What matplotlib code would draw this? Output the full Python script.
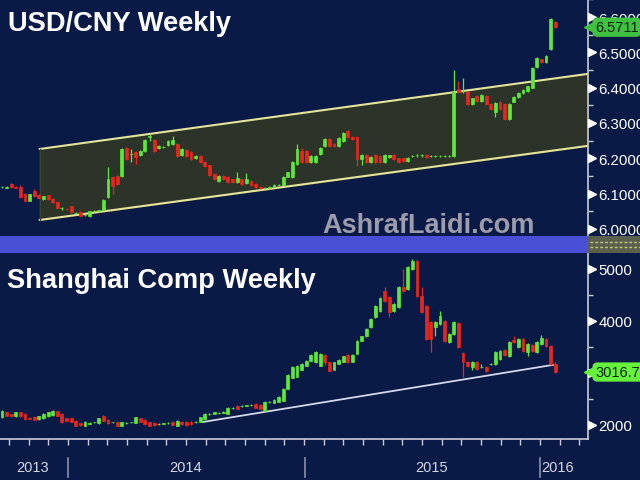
import numpy as np
import matplotlib
matplotlib.use('Agg')
import matplotlib.pyplot as plt
import matplotlib.transforms as mtransforms
from matplotlib.patches import Rectangle
from matplotlib.ticker import MultipleLocator, FuncFormatter

plt.rcParams['font.family'] = ['Liberation Sans', 'DejaVu Sans']

# ---- USD/CNY weekly candles ----
usd_open = [6.118, 6.117, 6.126, 6.118, 6.120, 6.098, 6.080, 6.106, 6.095, 6.085,
            6.095, 6.086, 6.075, 6.058, 6.057, 6.064, 6.046, 6.048, 6.040, 6.037,
            6.050, 6.051, 6.055, 6.090, 6.147, 6.150, 6.150, 6.229, 6.211, 6.218,
            6.209, 6.221, 6.261, 6.252, 6.229, 6.232, 6.238, 6.240, 6.240, 6.209,
            6.224, 6.218, 6.200, 6.207, 6.190, 6.180, 6.156, 6.136, 6.150, 6.147,
            6.140, 6.133, 6.140, 6.130, 6.136, 6.127, 6.120, 6.116, 6.115, 6.120,
            6.124, 6.125, 6.148, 6.147, 6.184, 6.220, 6.220, 6.190, 6.190, 6.212,
            6.235, 6.255, 6.240, 6.235, 6.249, 6.277, 6.260, 6.260, 6.198, 6.210,
            6.190, 6.210, 6.207, 6.190, 6.203, 6.210, 6.200, 6.200, 6.192, 6.206,
            6.208, 6.208, 6.210, 6.206, 6.206, 6.206, 6.207, 6.207, 6.207, 6.395,
            6.390, 6.388, 6.354, 6.376, 6.362, 6.376, 6.354, 6.331, 6.360, 6.354,
            6.311, 6.360, 6.374, 6.385, 6.390, 6.400, 6.459, 6.480, 6.473, 6.510,
            6.586]
usd_close = [6.118, 6.120, 6.118, 6.117, 6.090, 6.080, 6.098, 6.092, 6.088, 6.092,
             6.085, 6.075, 6.060, 6.058, 6.056, 6.048, 6.046, 6.038, 6.040, 6.050,
             6.050, 6.053, 6.082, 6.141, 6.122, 6.127, 6.226, 6.198, 6.213, 6.204,
             6.221, 6.252, 6.263, 6.221, 6.235, 6.233, 6.249, 6.252, 6.207, 6.226,
             6.207, 6.198, 6.206, 6.190, 6.178, 6.153, 6.141, 6.150, 6.141, 6.133,
             6.133, 6.143, 6.127, 6.140, 6.124, 6.119, 6.115, 6.116, 6.120, 6.124,
             6.124, 6.147, 6.160, 6.190, 6.226, 6.190, 6.190, 6.207, 6.207, 6.229,
             6.255, 6.235, 6.235, 6.258, 6.272, 6.260, 6.255, 6.198, 6.210, 6.190,
             6.205, 6.190, 6.190, 6.210, 6.208, 6.198, 6.190, 6.192, 6.202, 6.207,
             6.208, 6.209, 6.204, 6.206, 6.206, 6.207, 6.207, 6.207, 6.388, 6.388,
             6.391, 6.354, 6.370, 6.362, 6.380, 6.354, 6.340, 6.357, 6.340, 6.311,
             6.354, 6.374, 6.385, 6.394, 6.404, 6.456, 6.484, 6.473, 6.490, 6.594,
             6.5711]
usd_high = [6.121, 6.122, 6.129, 6.121, 6.123, 6.101, 6.100, 6.112, 6.098, 6.094,
            6.097, 6.088, 6.077, 6.061, 6.060, 6.066, 6.049, 6.050, 6.043, 6.052,
            6.053, 6.055, 6.085, 6.175, 6.150, 6.153, 6.229, 6.232, 6.226, 6.221,
            6.224, 6.254, 6.268, 6.255, 6.237, 6.236, 6.251, 6.262, 6.243, 6.228,
            6.227, 6.220, 6.208, 6.209, 6.192, 6.182, 6.158, 6.152, 6.152, 6.149,
            6.142, 6.161, 6.142, 6.157, 6.138, 6.129, 6.122, 6.119, 6.122, 6.126,
            6.127, 6.149, 6.162, 6.192, 6.240, 6.228, 6.224, 6.209, 6.209, 6.231,
            6.257, 6.258, 6.243, 6.260, 6.274, 6.280, 6.262, 6.262, 6.212, 6.212,
            6.207, 6.212, 6.209, 6.212, 6.210, 6.212, 6.202, 6.202, 6.204, 6.210,
            6.211, 6.211, 6.212, 6.209, 6.209, 6.209, 6.209, 6.209, 6.450, 6.418,
            6.427, 6.390, 6.372, 6.378, 6.382, 6.378, 6.356, 6.359, 6.362, 6.356,
            6.356, 6.376, 6.387, 6.396, 6.406, 6.458, 6.486, 6.482, 6.492, 6.596,
            6.588]
usd_low = [6.115, 6.115, 6.116, 6.115, 6.088, 6.078, 6.078, 6.090, 6.086, 6.083,
           6.083, 6.073, 6.058, 6.055, 6.054, 6.046, 6.043, 6.036, 6.037, 6.035,
           6.047, 6.049, 6.053, 6.088, 6.099, 6.125, 6.148, 6.196, 6.190, 6.184,
           6.207, 6.219, 6.250, 6.219, 6.227, 6.230, 6.236, 6.238, 6.205, 6.207,
           6.205, 6.196, 6.198, 6.188, 6.176, 6.151, 6.139, 6.134, 6.139, 6.131,
           6.131, 6.131, 6.125, 6.128, 6.122, 6.117, 6.113, 6.113, 6.113, 6.118,
           6.121, 6.123, 6.146, 6.145, 6.182, 6.188, 6.188, 6.188, 6.188, 6.210,
           6.233, 6.233, 6.233, 6.233, 6.247, 6.258, 6.253, 6.178, 6.180, 6.188,
           6.188, 6.188, 6.188, 6.188, 6.200, 6.196, 6.188, 6.190, 6.190, 6.204,
           6.205, 6.205, 6.202, 6.203, 6.203, 6.203, 6.204, 6.204, 6.205, 6.386,
           6.386, 6.352, 6.352, 6.360, 6.360, 6.352, 6.338, 6.318, 6.338, 6.309,
           6.309, 6.358, 6.372, 6.383, 6.388, 6.398, 6.457, 6.471, 6.471, 6.508,
           6.570]

# ---- Shanghai Composite weekly candles ----
sh_open = [2150, 2244, 2210, 2165, 2244, 2212, 2135, 2160, 2115, 2130,
           2167, 2190, 2260, 2212, 2129, 2129, 2083, 2035, 1990, 2028,
           2048, 2038, 2167, 2102, 2048, 2052, 1990, 2036, 2048, 2040,
           2129, 2102, 2052, 2040, 2015, 2026, 2036, 2064, 1990, 2064,
           2064, 2064, 2050, 2064, 2115, 2205, 2212, 2225, 2238, 2212,
           2320, 2365, 2360, 2366, 2380, 2404, 2385, 2275, 2440, 2423,
           2450, 2467, 2692, 2904, 2923, 3064, 3141, 3237, 3206, 3140,
           3346, 3206, 3064, 3173, 3218, 3346, 3218, 3365, 3621, 3706,
           3878, 4071, 4190, 4580, 4460, 4190, 4270, 4650, 4615, 5000,
           5150, 4480, 4290, 3980, 3890, 3940, 4000, 3600, 3750, 3960,
           3385, 3210, 3110, 3210, 3110, 3115, 3165, 3170, 3270, 3440,
           3330, 3640, 3500, 3650, 3400, 3540, 3400, 3560, 3650, 3520,
           3180]
sh_close = [2270, 2180, 2165, 2244, 2167, 2115, 2120, 2105, 2167, 2212,
            2244, 2275, 2180, 2052, 2083, 2064, 1987, 1995, 2064, 2038,
            2056, 2129, 2083, 2038, 2056, 1990, 2052, 2044, 2056, 2148,
            2064, 2019, 1990, 2000, 2023, 2034, 2044, 2006, 2083, 2010,
            2000, 2019, 2064, 2148, 2212, 2220, 2244, 2235, 2250, 2327,
            2330, 2308, 2368, 2376, 2390, 2327, 2308, 2442, 2448, 2487,
            2539, 2692, 2962, 3115, 3141, 3173, 3237, 3346, 3398, 3365,
            3206, 3045, 3206, 3256, 3320, 3206, 3346, 3621, 3706, 3846,
            4038, 4294, 4440, 4385, 4170, 4330, 4650, 4580, 5040, 5150,
            4480, 4170, 3650, 3650, 3980, 4090, 3620, 3750, 3980, 3500,
            3210, 3130, 3210, 3080, 3120, 3040, 3175, 3400, 3420, 3345,
            3600, 3600, 3650, 3420, 3560, 3420, 3600, 3670, 3520, 3180,
            3016.70]
sh_high = [2290, 2255, 2220, 2255, 2255, 2225, 2145, 2170, 2178, 2222,
           2255, 2285, 2270, 2222, 2140, 2140, 2095, 2045, 2075, 2048,
           2066, 2140, 2190, 2112, 2066, 2062, 2062, 2054, 2066, 2160,
           2140, 2112, 2062, 2050, 2033, 2044, 2054, 2074, 2093, 2074,
           2074, 2074, 2074, 2158, 2222, 2230, 2254, 2245, 2260, 2337,
           2340, 2375, 2378, 2386, 2400, 2414, 2395, 2452, 2458, 2497,
           2549, 2702, 2972, 3125, 3151, 3183, 3247, 3356, 3420, 3375,
           3356, 3216, 3216, 3266, 3330, 3356, 3356, 3631, 3716, 3856,
           4048, 4304, 4460, 4650, 4480, 4350, 4670, 5000, 5060, 5180,
           5170, 4650, 4310, 4000, 4000, 4190, 4020, 3770, 4000, 3980,
           3400, 3230, 3230, 3230, 3170, 3130, 3190, 3420, 3440, 3460,
           3620, 3700, 3670, 3670, 3580, 3560, 3620, 3720, 3670, 3540,
           3200]
sh_low = [2140, 2170, 2155, 2155, 2155, 2105, 2110, 2095, 2105, 2120,
          2157, 2180, 2170, 2040, 2072, 2052, 1975, 1985, 1980, 2020,
          2040, 2028, 2072, 2028, 2040, 1980, 1980, 2028, 2040, 2030,
          2054, 2009, 1980, 1990, 2007, 2018, 2028, 1996, 1980, 2000,
          1990, 2009, 2040, 2054, 2105, 2195, 2202, 2215, 2228, 2202,
          2310, 2298, 2350, 2356, 2370, 2317, 2298, 2265, 2430, 2413,
          2440, 2457, 2682, 2894, 2913, 3054, 3131, 3227, 3196, 3130,
          3160, 3035, 3054, 3163, 3208, 3196, 3208, 3355, 3611, 3696,
          3868, 4061, 4170, 4370, 4080, 4170, 4250, 4560, 4600, 4980,
          4460, 4150, 3630, 3400, 3700, 3920, 3600, 3580, 3730, 3480,
          2920, 3110, 3050, 3060, 3090, 3020, 3150, 3150, 3250, 3330,
          3310, 3580, 3480, 3400, 3330, 3400, 3380, 3540, 3500, 3160,
          2990]

# channel / trendline anchors (week index, value)
channel_x = [8.2, 126.9]
channel_upper = [6.2264, 6.4387]
channel_lower = [6.0254, 6.2349]
trend_x = [43.6, 119.5]
trend_y = [2058, 3154]

usd_ticks = [6.0, 6.1, 6.2, 6.3, 6.4, 6.5, 6.6]
sh_ticks = [2000, 3000, 4000, 5000]
sh_hidden = [3000]   # label sits under the last-price tag

year_labels = ['2013', '2014', '2015', '2016']
year_label_pos = [6.7, 39.9, 93.1, 120.6]
year_breaks = [14.3, 65.7, 116.7]

usd_last = '6.5711'
sh_last = '3016.70'

BG = '#0a1a46'
GREEN = '#5ee83a'
RED = '#e8261e'
AXIS = '#c8ccd8'

W, H = 640, 481


def fig_box(x0, y0, x1, y1):
    return [x0 / W, 1 - y1 / H, (x1 - x0) / W, (y1 - y0) / H]


def draw_candles(ax, o, h, l, c):
    o, h, l, c = map(np.asarray, (o, h, l, c))
    x = np.arange(len(o))
    cols = np.where(c >= o, GREEN, RED)
    ax.vlines(x, l, h, colors=cols, lw=0.9, zorder=3)
    ax.bar(x, c - o, bottom=o, width=0.62, color=cols, edgecolor=cols,
           linewidth=0.5, zorder=4)


def style_right_axis(ax, ticks, minor, fmt, hidden=()):
    ax.set_facecolor(BG)
    for s in ['top', 'left', 'bottom']:
        ax.spines[s].set_visible(False)
    ax.spines['right'].set_color(AXIS)
    ax.spines['right'].set_linewidth(1.2)
    ax.yaxis.tick_right()
    ax.set_yticks(ticks)
    ax.yaxis.set_major_formatter(
        FuncFormatter(lambda v, p: '' if any(abs(v - hh) < 1e-6 for hh in hidden) else fmt % v))
    ax.yaxis.set_minor_locator(MultipleLocator(minor))
    ax.tick_params(axis='y', which='major', length=0, pad=7.5,
                   labelsize=10.8, labelcolor='white')
    ax.tick_params(axis='y', which='minor', length=3.5, color=AXIS, width=1)
    tr = mtransforms.blended_transform_factory(ax.transAxes, ax.transData)
    ax.plot(np.full(len(ticks), 1.0075), ticks, ls='none', marker='>',
            ms=6, color='white', transform=tr, clip_on=False, zorder=5)
    return tr


def value_tag(ax, tr, y, text, fc):
    ax.plot([1.004], [y], ls='none', marker='<', ms=8, color=fc,
            transform=tr, clip_on=False, zorder=6)
    ax.text(1.012, y, text, transform=tr, ha='left', va='center',
            fontsize=10.5, color='#0c2410', clip_on=False, zorder=7,
            bbox=dict(boxstyle='round,pad=0.18,rounding_size=0.35', fc=fc, ec='none'))


fig = plt.figure(figsize=(6.4, 4.81), dpi=100, facecolor=BG)

ax_top = fig.add_axes(fig_box(0, 0, 588, 237))
ax_bot = fig.add_axes(fig_box(0, 254, 588, 440), sharex=ax_top)

# top panel: USD/CNY with rising channel
ax_top.fill_between(channel_x, channel_lower, channel_upper, color='#2c3429', zorder=1)
ax_top.plot(channel_x, channel_upper, color='#e4e49a', lw=1.5, zorder=2)
ax_top.plot(channel_x, channel_lower, color='#e4e49a', lw=1.5, zorder=2)
ax_top.plot([channel_x[0], channel_x[0]], [channel_lower[0], channel_upper[0]],
            color='#3a4236', lw=1, zorder=2)
draw_candles(ax_top, usd_open, usd_high, usd_low, usd_close)
ax_top.set_ylim(5.980, 6.651)
tr_top = style_right_axis(ax_top, usd_ticks, 0.05, '%.4f')
ax_top.tick_params(axis='x', which='both', bottom=False, labelbottom=False)
value_tag(ax_top, tr_top, usd_close[-1], usd_last, '#3fc23f')

# bottom panel: Shanghai Composite with support line
ax_bot.plot(trend_x, trend_y, color='#d4d8ea', lw=1.3, zorder=2)
draw_candles(ax_bot, sh_open, sh_high, sh_low, sh_close)
ax_bot.set_ylim(1731, 5302)
tr_bot = style_right_axis(ax_bot, sh_ticks, 500, '%d', hidden=sh_hidden)
value_tag(ax_bot, tr_bot, sh_close[-1], sh_last, '#66f23c')

ax_bot.set_xlim(-0.43, 127.1)
ax_bot.spines['bottom'].set_visible(True)
ax_bot.spines['bottom'].set_color(AXIS)
ax_bot.spines['bottom'].set_linewidth(1.2)
month_ticks = np.arange(year_breaks[0] - 3 * 4.267, 127, 4.267)
ax_bot.set_xticks(month_ticks)
ax_bot.tick_params(axis='x', which='major', length=4.5, width=1, color=AXIS,
                   direction='out', labelbottom=False)

trx = mtransforms.blended_transform_factory(ax_bot.transData, ax_bot.transAxes)
for pos, lab in zip(year_label_pos, year_labels):
    ax_bot.text(pos, -0.15, lab, transform=trx, ha='center', va='center',
                fontsize=10.5, color='#d4d8e4', clip_on=False)
for b in year_breaks:
    ax_bot.plot([b, b], [-0.10, -0.205], transform=trx, color='#8a90a8',
                lw=1.2, clip_on=False)

# blue separator band between panels
fig.patches.append(Rectangle((0, 1 - 254 / H), 588 / W, 17 / H, transform=fig.transFigure,
                             fc='#4a50d6', ec='none', zorder=0))
fig.patches.append(Rectangle((588 / W, 1 - 254 / H), 52 / W, 17 / H, transform=fig.transFigure,
                             fc='#5b604c', ec='none', zorder=0))
for yy in [243, 248]:
    fig.add_artist(plt.Line2D([590 / W, 1], [1 - yy / H, 1 - yy / H], transform=fig.transFigure,
                              color='#c8c880', lw=1, ls=(0, (2, 1.5))))

# titles and watermark
fig.text(8 / W, 1 - 31 / H, 'USD/CNY Weekly', fontsize=19.6, fontweight='bold',
         color='white', va='baseline', ha='left')
fig.text(7 / W, 1 - 288 / H, 'Shanghai Comp Weekly', fontsize=19.6, fontweight='bold',
         color='white', va='baseline', ha='left')
fig.text(322 / W, 1 - 233 / H, 'AshrafLaidi.com', fontsize=19.5, fontweight='bold',
         color='#9c9caa', va='baseline', ha='left', zorder=10)

fig.savefig('out.png', dpi=100, facecolor=BG)
